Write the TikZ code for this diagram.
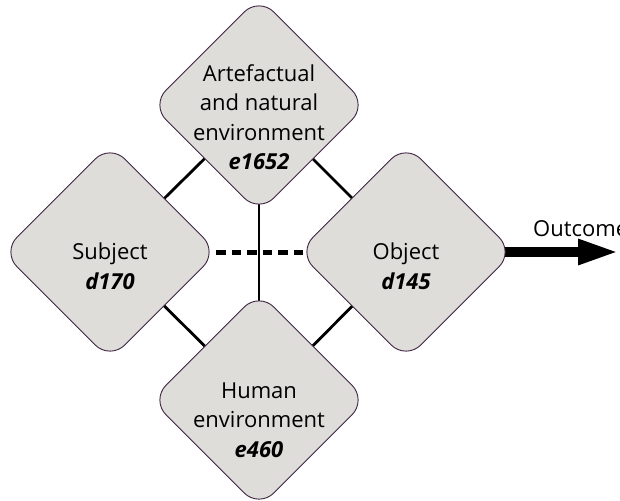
\documentclass[tikz,border=0pt]{standalone}
\usepackage{fontspec}
\setmainfont{Open Sans}
\usetikzlibrary{shapes.geometric,arrows.meta}
\pgfdeclarelayer{bg}
\pgfsetlayers{bg,main}
\definecolor{dfill}{HTML}{DFDDD9}
\definecolor{dline}{HTML}{3D2340}
\begin{document}
\begin{tikzpicture}[x=1pt,y=-1pt,
  dia/.style={shape=diamond, aspect=1, minimum width=216pt, minimum height=216pt,
    inner sep=0pt, draw=dline, line width=0.9pt, fill=dfill, rounded corners=21pt},
  lbl/.style={align=center, font=\fontsize{22}{29.5}\selectfont, inner sep=0pt},
  link/.style={line width=2.8pt, black},
  dashlink/.style={line width=5pt, black, dash pattern=on 9.5pt off 6pt},
  outarrow/.style={line width=10.5pt, black, -{Triangle[length=42pt,width=23pt]}}]
\useasboundingbox (0,0) rectangle (620,500);
\node[dia] (top) at (259,105) {};
\node[dia] (subj) at (110,252) {};
\node[dia] (obj) at (406,252) {};
\node[dia] (hum) at (259,400) {};
\coordinate (outend) at (620,252);
\begin{pgfonlayer}{bg}
\draw[link] (top.center) -- (subj.center);
\draw[link] (top.center) -- (obj.center);
\draw[link] (hum.center) -- (subj.center);
\draw[link] (hum.center) -- (obj.center);
\draw[link] (top.center) -- (hum.center);
\draw[outarrow] (obj.center) -- (outend);
\end{pgfonlayer}
\draw[dashlink] ([xshift=-2pt]subj.east) -- ([xshift=5pt]obj.west);
\node[lbl] (toplbl) at (259,117) {Artefactual\\and natural\\environment\\\textbf{\textit{e1652}}};
\node[lbl] (subjlbl) at (110,266) {Subject\\\textbf{\textit{d170}}};
\node[lbl] (objlbl) at (406,266) {Object\\\textbf{\textit{d145}}};
\node[lbl] (humlbl) at (259,420) {Human\\environment\\\textbf{\textit{e460}}};
\node[font=\fontsize{22}{26}\selectfont, inner sep=0pt, anchor=base west] (outlbl) at (533,236) {Outcome};
\end{tikzpicture}
\end{document}
